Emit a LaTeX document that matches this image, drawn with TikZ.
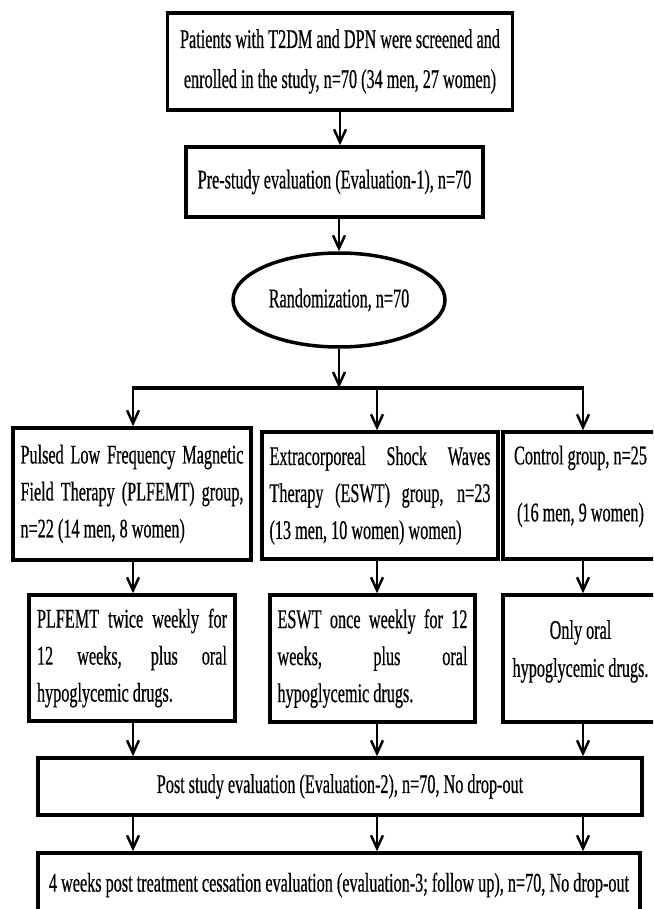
\documentclass[tikz,border=0pt]{standalone}
\usepackage{fontspec}
\setmainfont{Liberation Serif}[FakeStretch=0.6, FakeBold=0.5]
\usetikzlibrary{shapes.geometric,arrows.meta}
\tolerance=9999 \hyphenpenalty=10000 \hbadness=10000

\begin{document}
\begin{tikzpicture}[x=1pt, y=-1pt,
    every node/.style={font=\fontsize{27}{37}\selectfont, inner sep=0pt},
    b/.style={draw, line width=3.5pt, fill=white},
    arr/.style={line width=2pt, -{Straight Barb[length=13pt,width=12pt,line width=2.5pt]}}]
  \clip (0,0) rectangle (653,909);
  \fill[white] (0,0) rectangle (653,909);

  \node[b, minimum width=345, minimum height=97, align=center, font=\fontsize{27}{40}\selectfont] (enrol) at (340,61.5) {Patients with T2DM and DPN were screened and\\enrolled in the study, n=70 (34 men, 27 women)};
  \node[b, minimum width=297, minimum height=70] (pre) at (334.5,182) {Pre-study evaluation (Evaluation-1), n=70};
  \node[b, ellipse, minimum width=212, minimum height=94] (rand) at (339,300) {Randomization, n=70};

  \coordinate (busL) at (133,388);
  \coordinate (busM) at (377,388);
  \coordinate (busR) at (583,388);

  % groups
  \node[b, minimum width=238, minimum height=132, text width=223, align=justify] (plf) at (132,494) {Pulsed Low Frequency Magnetic\linebreak Field Therapy (PLFEMT) group,\linebreak n=22 (14 men, 8 women)};
  \node[b, minimum width=236, minimum height=127, text width=221, align=justify] (eswt) at (380,495.5) {Extracorporeal Shock Waves\linebreak Therapy (ESWT) group, n=23\linebreak (13 men, 10 women) women)};
  \node[b, minimum width=155, minimum height=127, align=center] (ctrl) at (580.5,495.5) {Control group, n=25\\[20pt](16 men, 9 women)\rule[-24pt]{0pt}{1pt}};

  % treatment
  \node[b, minimum width=206, minimum height=126, text width=190, align=justify] (plf2) at (132,658) {PLFEMT twice weekly for\linebreak 12 weeks, plus oral\linebreak hypoglycemic drugs.};
  \node[b, minimum width=205, minimum height=127, text width=190, align=justify] (eswt2) at (372.5,658.5) {ESWT once weekly for 12\linebreak weeks, plus oral\linebreak hypoglycemic drugs.};
  \node[b, minimum width=155, minimum height=127, align=center] (ctrl2) at (580.5,658.5) {Only oral\\[1pt]hypoglycemic drugs.\rule[-20pt]{0pt}{1pt}};

  \node[b, minimum width=604, minimum height=57] (post) at (340,786.5) {Post study evaluation (Evaluation-2), n=70, No drop-out};
  \node[b, minimum width=602, minimum height=64] (fu) at (339,885) {4 weeks post treatment cessation evaluation (evaluation-3; follow up), n=70, No drop-out};

  \draw[arr] (enrol.south) -- (enrol.south |- pre.north);
  \draw[arr] (pre.south -| rand) -- (rand.north);
  \draw[arr] (rand.south) -- (rand.south |- busM);
  \draw[line width=4.5pt] ([xshift=-1pt]busL) -- ([xshift=1pt]busR);

  \foreach \c/\a/\b in {busL/plf/plf2, busM/eswt/eswt2, busR/ctrl/ctrl2} {
    \draw[arr] (\c) -- (\c |- \a.north);
    \draw[arr] (\c |- \a.south) -- (\c |- \b.north);
    \draw[arr] (\c |- \b.south) -- (\c |- post.north);
    \draw[arr] (\c |- post.south) -- (\c |- fu.north);
  }
\end{tikzpicture}
\end{document}
